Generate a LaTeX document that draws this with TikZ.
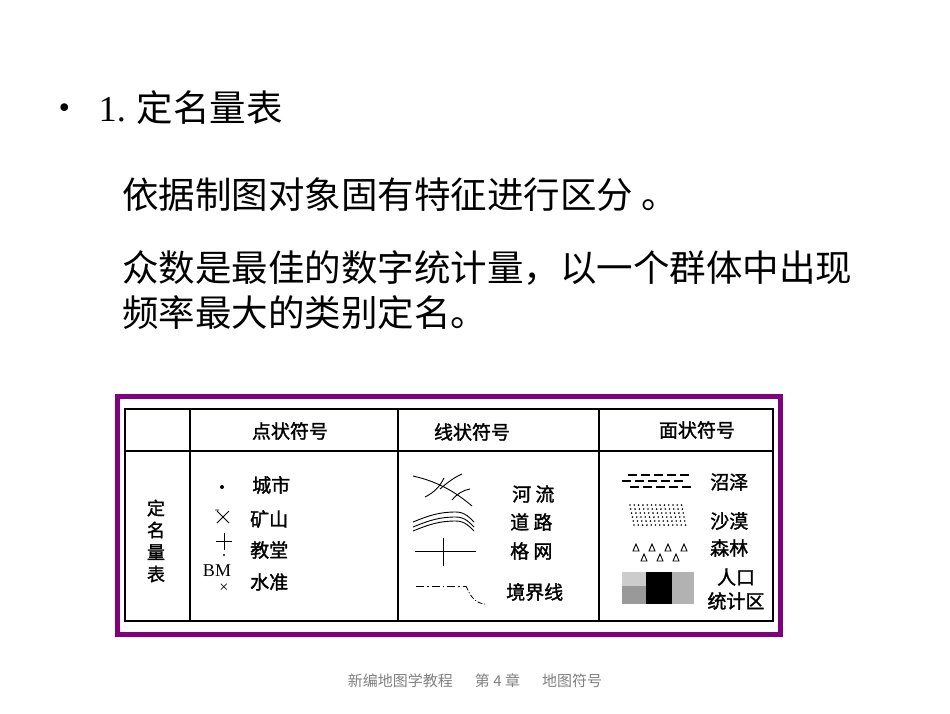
\documentclass[tikz,border=0pt]{standalone}
\usepackage{fontspec}
\setmainfont{Liberation Serif}
\newfontfamily\cjk{Noto Sans CJK SC}
\newfontfamily\cjks{Noto Sans CJK SC}[FakeBold=1.5]
\definecolor{frm}{RGB}{128,0,128}
\begin{document}
\begin{tikzpicture}[x=1pt,y=-1pt,
  big/.style={anchor=west,inner sep=0,font=\fontsize{36.5}{40}\selectfont\cjk},
  tb/.style={inner sep=0,font=\fontsize{19}{20}\selectfont\cjks},
  sym/.style={line width=0.9pt}]
\useasboundingbox (0,0) rectangle (950,713);
\node[big] (t1) at (46,108) {•\hspace{16pt}{\rmfamily 1.} 定名量表};
\node[big] (t2) at (122,195) {依据制图对象固有特征进行区分\ 。};
\node[big] (t3) at (122,268) {众数是最佳的数字统计量，以一个群体中出现};
\node[big] (t4) at (122,313) {频率最大的类别定名。};
% frame
\draw[frm,line width=5pt] (117,396) rectangle (780,634);
\draw[line width=1.2pt] (125,409) rectangle (773,621);
\draw[line width=1.2pt] (125,451) -- (773,451);
\draw[line width=1.2pt] (190,409) -- (190,621) (398,409) -- (398,621) (599,409) -- (599,621);
\node[tb] (h1) at (290,431) {点状符号};
\node[tb] (h2) at (472,432) {线状符号};
\node[tb] (h3) at (697,430) {面状符号};
\node[tb,align=center,font=\fontsize{18}{22}\selectfont\cjks] (v) at (156,541) {定\\名\\量\\表};
% point symbols
\fill (222,487) circle (2pt);
\node[tb,anchor=west] (c1) at (252,485) {城市};
\draw[sym] (217,511) -- (229,523) (229,511) -- (217,523) (215,510) -- (219,510);
\node[tb,anchor=west] (c2) at (250,519) {矿山};
\draw[sym] (216,541) -- (232,541) (224,533) -- (224,550);
\fill (224,555) circle (1.2pt);
\node[tb,anchor=west] (c3) at (250,550) {教堂};
\node[inner sep=0,font=\fontsize{18}{18}\selectfont] (bm) at (217,571) {BM};
\node[inner sep=0,font=\fontsize{16}{16}\selectfont] (x) at (224,588) {×};
\node[tb,anchor=west] (c4) at (250,582) {水准};
% line symbols
\draw[sym] (413,476) .. controls (440,482) and (458,494) .. (472,506);
\draw[sym] (425,497) .. controls (435,492) and (440,486) .. (444,478);
\draw[sym] (440,489) .. controls (448,482) and (455,477) .. (462,474);
\draw[sym] (452,500) .. controls (457,494) and (463,490) .. (470,489);
\draw[sym] (413,522) .. controls (430,515) and (440,512) .. (456,512) .. controls (465,512) and (470,518) .. (474,522);
\draw[sym] (413,527) .. controls (430,520) and (440,517) .. (456,517) .. controls (465,517) and (470,523) .. (474,527);
\draw[sym] (413,531) .. controls (430,524) and (440,521) .. (456,521) .. controls (465,521) and (470,527) .. (474,531);
\draw[sym] (415,551) -- (476,551) (443,538) -- (443,566);
\draw[line width=0.8pt,dash pattern=on 8pt off 3pt on 1.5pt off 3pt] (416,586) -- (466,586);
\draw[line width=0.8pt,dash pattern=on 5pt off 2pt on 1pt off 2pt] (466,586) .. controls (470,595) and (474,603) .. (485,604);
\node[tb,anchor=west] (l1) at (512,494) {河\ 流};
\node[tb,anchor=west] (l2) at (510,522) {道\ 路};
\node[tb,anchor=west] (l3) at (510,551) {格\ 网};
\node[tb,anchor=west] (l4) at (506,592) {境界线};
% area symbols
\foreach \y/\xs in {475/628,481/622,487/630}{
  \foreach \i in {0,...,4}{\draw[line width=1.2pt] (\xs+\i*13,\y) -- +(9,0);}}
\foreach \r in {0,...,5}{\foreach \c in {0,...,12}{
  \fill (630+\c*4.3+\r*0.8,505+\r*4) circle (0.9pt);}}
\foreach \xx in {636,652,668,684}{\draw[line width=0.9pt] (\xx,544) -- (\xx-3,551) -- (\xx+3,551) -- cycle;}
\foreach \xx in {644,660,676}{\draw[line width=0.9pt] (\xx,554) -- (\xx-3,561) -- (\xx+3,561) -- cycle;}
\fill[gray!40] (622,572) rectangle (646,586);
\fill[gray!80] (622,586) rectangle (646,604);
\fill[black] (646,572) rectangle (672,604);
\fill[gray!60] (672,572) rectangle (694,604);
\node[tb,anchor=west] (a1) at (710,482) {沼泽};
\node[tb,anchor=west] (a2) at (710,521) {沙漠};
\node[tb,anchor=west] (a3) at (710,548) {森林};
\node[tb] (a4) at (736,577) {人口};
\node[tb] (a5) at (736,601) {统计区};
\node[inner sep=0,text=gray,font=\fontsize{15}{17}\selectfont\cjk] (f) at (475,681) {新编地图学教程\hspace{22pt}第 4 章\hspace{22pt}地图符号};
\end{tikzpicture}
\end{document}
